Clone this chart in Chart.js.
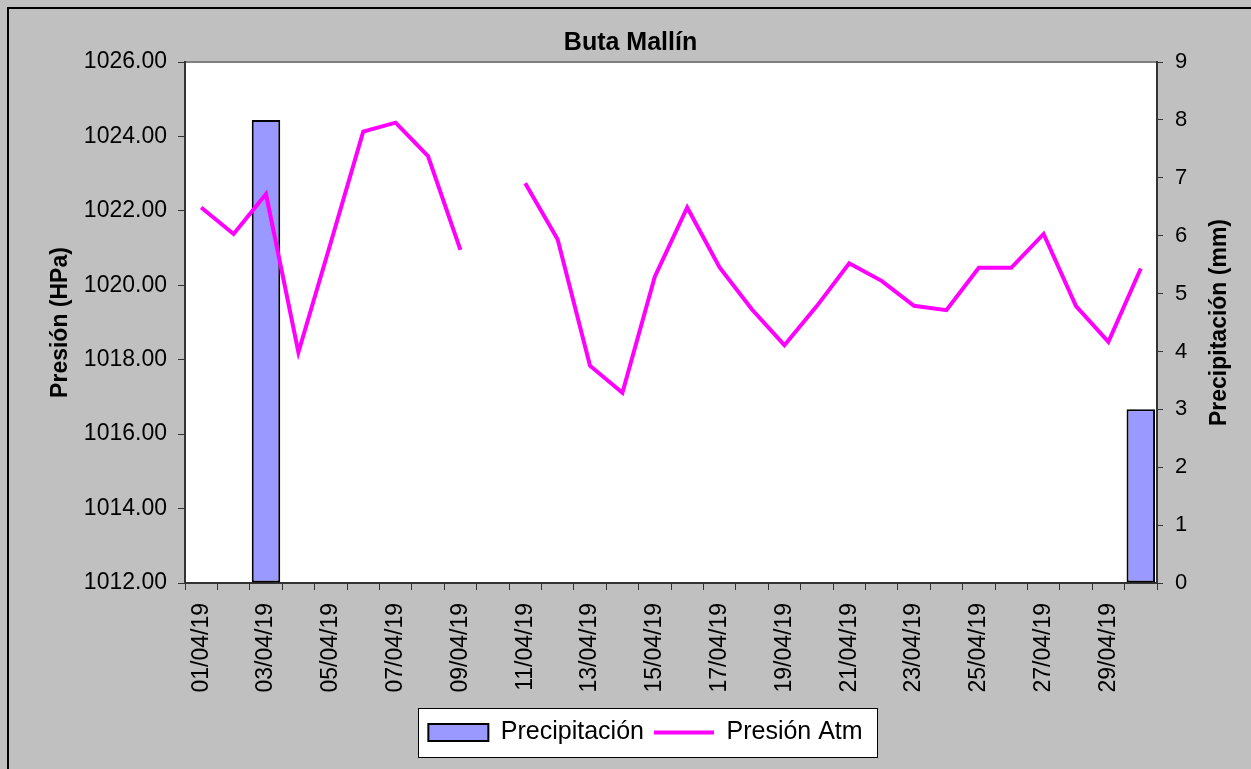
<!DOCTYPE html>
<html>
<head>
<meta charset="utf-8">
<script src="https://cdn.jsdelivr.net/npm/chart.js@4.4.1/dist/chart.umd.min.js"></script>
<style>
  html, body { margin: 0; padding: 0; background: #c0c0c0; }
  #wrap { width: 1251px; height: 769px; }
</style>
</head>
<body>
<div id="wrap"><canvas id="chart" width="1251" height="769"></canvas></div>
<script>
// Buta Mallín - presión atmosférica y precipitación diaria (abril 2019)

const FONT = 'Liberation Sans, Arial, sans-serif';

const CHART_TITLE = 'Buta Mallín';
const LEFT_TITLE = 'Presión (HPa)';
const RIGHT_TITLE = 'Precipitación (mm)';

const dates = [
  '01/04/19', '02/04/19', '03/04/19', '04/04/19', '05/04/19', '06/04/19',
  '07/04/19', '08/04/19', '09/04/19', '10/04/19', '11/04/19', '12/04/19',
  '13/04/19', '14/04/19', '15/04/19', '16/04/19', '17/04/19', '18/04/19',
  '19/04/19', '20/04/19', '21/04/19', '22/04/19', '23/04/19', '24/04/19',
  '25/04/19', '26/04/19', '27/04/19', '28/04/19', '29/04/19', '30/04/19'
];

// hPa, null = sin dato (10/04)
const pressure = [
  1022.09, 1021.38, 1022.45, 1018.20, 1021.15, 1024.13,
  1024.37, 1023.47, 1020.95, null,    1022.74, 1021.24,
  1017.84, 1017.11, 1020.23, 1022.09, 1020.48, 1019.35,
  1018.39, 1019.44, 1020.59, 1020.12, 1019.45, 1019.33,
  1020.47, 1020.47, 1021.38, 1019.44, 1018.48, 1020.45
];

// mm
const rain = [
  null, null, 8, null, null, null, null, null, null, null,
  null, null, null, null, null, null, null, null, null, null,
  null, null, null, null, null, null, null, null, null, 3
];

const pressureTicks = { min: 1012, max: 1026, step: 2 };
const rainTicks = { min: 0, max: 9, step: 1 };

const LEGEND_SHIFT = 15;
const LEGEND_PAD = 10;
const LEGEND_FONT = 25;

// background, frame, plot area and legend box
const chartFrame = {
  id: 'chartFrame',
  afterUpdate(chart) {
    const lg = chart.legend;
    lg.left += LEGEND_SHIFT;
    lg.right += LEGEND_SHIFT;
    lg.adjustHitBoxes();
  },
  beforeDraw(chart) {
    const ctx = chart.ctx;
    const a = chart.chartArea;
    ctx.save();
    ctx.fillStyle = '#c0c0c0';
    ctx.fillRect(0, 0, chart.width, chart.height);

    ctx.strokeStyle = '#000';
    ctx.lineWidth = 2;
    ctx.beginPath();
    ctx.moveTo(8, chart.height);
    ctx.lineTo(8, 8);
    ctx.lineTo(chart.width, 8);
    ctx.stroke();

    ctx.fillStyle = '#fff';
    ctx.fillRect(a.left, a.top, a.right - a.left, a.bottom - a.top);
    ctx.strokeStyle = '#808080';
    ctx.lineWidth = 2;
    ctx.beginPath();
    ctx.moveTo(a.left, a.top);
    ctx.lineTo(a.right, a.top);
    ctx.stroke();

    // white legend frame around the items
    const lg = chart.legend;
    const rowW = lg.lineWidths[0];
    const start = (lg.left + LEGEND_PAD + lg.right - rowW) / 2;
    const x0 = Math.round(start - 10);
    const x1 = Math.round(start + rowW - LEGEND_PAD + 14);
    const y0 = Math.round(lg.top + LEGEND_PAD - 12);
    const y1 = Math.round(lg.top + LEGEND_PAD + LEGEND_FONT + 12);
    ctx.fillStyle = '#fff';
    ctx.fillRect(x0, y0, x1 - x0, y1 - y0);
    ctx.strokeStyle = '#000';
    ctx.lineWidth = 1;
    ctx.strokeRect(x0 + 0.5, y0 + 0.5, x1 - x0, y1 - y0);
    ctx.restore();
  },
  afterDraw(chart) {
    // right axis title reads bottom-to-top like the left one
    const ctx = chart.ctx;
    const a = chart.chartArea;
    const s = chart.scales.y1;
    ctx.save();
    ctx.translate(s.right - 31, (a.top + a.bottom) / 2);
    ctx.rotate(-Math.PI / 2);
    ctx.font = 'bold 23px ' + FONT;
    ctx.fillStyle = '#000';
    ctx.textAlign = 'center';
    ctx.textBaseline = 'middle';
    ctx.fillText(RIGHT_TITLE, 0, 0);
    ctx.restore();
  }
};

const ctx = document.getElementById('chart').getContext('2d');

new Chart(ctx, {
  type: 'bar',
  data: {
    labels: dates,
    datasets: [
      {
        type: 'bar',
        label: 'Precipitación',
        data: rain,
        yAxisID: 'y1',
        backgroundColor: '#9999ff',
        borderColor: '#000',
        borderWidth: 2,
        borderSkipped: false,
        categoryPercentage: 1,
        barPercentage: 0.88,
        pointStyle: 'rect',
        order: 1
      },
      {
        type: 'line',
        label: 'Presión Atm',
        data: pressure,
        yAxisID: 'y',
        borderColor: '#ff00ff',
        backgroundColor: '#ff00ff',
        borderWidth: 4,
        pointRadius: 0,
        pointHoverRadius: 0,
        pointBorderWidth: 4,
        pointBorderColor: '#ff00ff',
        pointStyle: 'line',
        tension: 0,
        spanGaps: false,
        order: 0
      }
    ]
  },
  options: {
    responsive: false,
    animation: false,
    layout: {
      padding: { left: 10, right: 0, top: 0, bottom: 14 }
    },
    scales: {
      x: {
        type: 'category',
        offset: true,
        afterFit: (scale) => { scale.height = 127; },
        border: { color: '#333', width: 2 },
        grid: {
          offset: true,
          drawOnChartArea: false,
          drawTicks: true,
          tickLength: 7,
          color: '#333',
          lineWidth: 1
        },
        ticks: {
          autoSkip: false,
          maxRotation: 90,
          minRotation: 90,
          padding: 13,
          color: '#000',
          font: { family: FONT, size: 23 },
          callback: function (val, idx) {
            return idx % 2 === 0 ? this.getLabelForValue(val) : '';
          }
        }
      },
      y: {
        position: 'left',
        min: pressureTicks.min,
        max: pressureTicks.max,
        afterFit: (scale) => { scale.width = 175; },
        border: { color: '#333', width: 2 },
        grid: {
          drawOnChartArea: false,
          tickLength: 7,
          color: '#333'
        },
        ticks: {
          stepSize: pressureTicks.step,
          padding: 11,
          color: '#000',
          font: { family: FONT, size: 23 },
          callback: (v) => v.toFixed(2)
        },
        title: {
          display: true,
          text: LEFT_TITLE,
          color: '#000',
          font: { family: FONT, size: 23, weight: 'bold' },
          padding: { top: 37, bottom: 0 }
        }
      },
      y1: {
        position: 'right',
        min: rainTicks.min,
        max: rainTicks.max,
        afterFit: (scale) => { scale.width = 94; },
        border: { color: '#333', width: 2 },
        grid: {
          drawOnChartArea: false,
          tickLength: 6,
          color: '#333'
        },
        ticks: {
          stepSize: rainTicks.step,
          padding: 12,
          color: '#000',
          font: { family: FONT, size: 22 }
        }
      }
    },
    plugins: {
      title: {
        display: true,
        text: CHART_TITLE,
        color: '#000',
        font: { family: FONT, size: 25, weight: 'bold' },
        padding: { top: 28, bottom: 4 }
      },
      legend: {
        display: true,
        position: 'bottom',
        reverse: true,
        labels: {
          usePointStyle: true,
          pointStyleWidth: 60,
          boxHeight: 17,
          padding: LEGEND_PAD,
          color: '#000',
          font: { family: FONT, size: LEGEND_FONT }
        }
      },
      tooltip: { enabled: false }
    }
  },
  plugins: [chartFrame]
});
</script>
</body>
</html>
